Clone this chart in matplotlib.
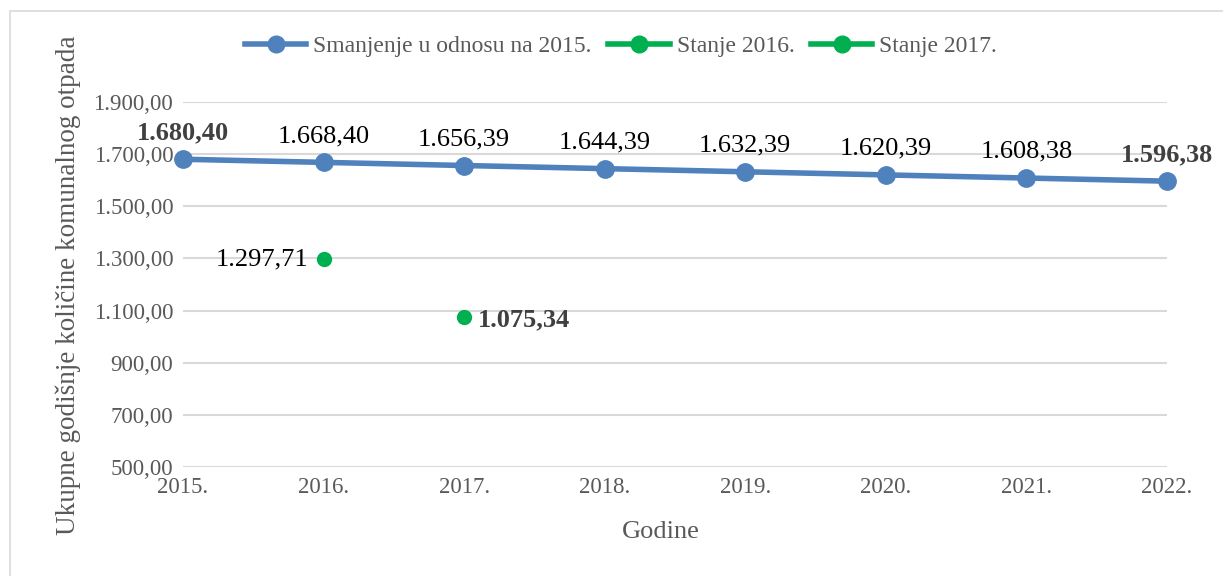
import matplotlib
matplotlib.use("Agg")
import matplotlib.pyplot as plt
from matplotlib.patches import Rectangle
from matplotlib.ticker import FuncFormatter

plt.rcParams['font.family'] = ['Liberation Serif', 'DejaVu Serif']

years = [2015, 2016, 2017, 2018, 2019, 2020, 2021, 2022]
year_labels = ["2015.", "2016.", "2017.", "2018.", "2019.", "2020.", "2021.", "2022."]
reduction = [1680.40, 1668.40, 1656.39, 1644.39, 1632.39, 1620.39, 1608.38, 1596.38]
reduction_labels = ["1.680,40", "1.668,40", "1.656,39", "1.644,39", "1.632,39", "1.620,39", "1.608,38", "1.596,38"]
state2016_x, state2016_y, state2016_label = 2016, 1297.71, "1.297,71"
state2017_x, state2017_y, state2017_label = 2017, 1075.34, "1.075,34"
yticks = [500, 700, 900, 1100, 1300, 1500, 1700, 1900]

blue = "#4F81BD"
green = "#00B050"
gray = "#595959"

fig = plt.figure(figsize=(12.23, 5.76), dpi=100)
fig.patches.append(Rectangle((10/1223, -0.01), 1.02, 1 - 11/576 + 0.01, transform=fig.transFigure,
                             fill=False, edgecolor="#D9D9D9", linewidth=1.2))
ax = fig.add_axes([183/1223, 1 - 467/576, (1167-183)/1223, (467-102)/576])

ax.plot(years, reduction, color=blue, linewidth=4, marker="o", markersize=12.5,
        label="Smanjenje u odnosu na 2015.", clip_on=False, zorder=3)
ax.plot([state2016_x], [state2016_y], color=green, linewidth=4, marker="o", markersize=10,
        linestyle="none", label="Stanje 2016.", clip_on=False, zorder=3)
ax.plot([state2017_x], [state2017_y], color=green, linewidth=4, marker="o", markersize=10,
        linestyle="none", label="Stanje 2017.", clip_on=False, zorder=3)

n = len(years)
for i, (x, y, lab) in enumerate(zip(years, reduction, reduction_labels)):
    bold = (i == 0 or i == n - 1)
    ax.annotate(lab, (x, y), xytext=(0, 11), textcoords="offset points",
                ha="center", va="bottom", fontsize=19,
                fontweight="bold" if bold else "normal",
                color="#404040" if bold else "black", zorder=4)

ax.annotate(state2016_label, (state2016_x, state2016_y), xytext=(-11, 0), textcoords="offset points",
            ha="right", va="center", fontsize=19, color="black")
ax.annotate(state2017_label, (state2017_x, state2017_y), xytext=(10, -2), textcoords="offset points",
            ha="left", va="center", fontsize=19, fontweight="bold", color="#404040")

ax.set_xlim(2015, 2022)
ax.set_ylim(500, 1900)
ax.set_yticks(yticks)
ax.yaxis.set_major_formatter(FuncFormatter(lambda v, p: f"{int(v):,}".replace(",", ".") + ",00"))
ax.set_xticks(years)
ax.set_xticklabels(year_labels)
ax.tick_params(axis="both", length=0, labelsize=16.5, labelcolor=gray)
ax.tick_params(axis="x", pad=7)
ax.tick_params(axis="y", pad=7)
ax.grid(axis="y", color="#D9D9D9", linewidth=1.5)
ax.set_axisbelow(True)
for s in ax.spines.values():
    s.set_visible(False)

fig.text(661/1223, 1 - 532/576, "Godine", ha="center", va="center", fontsize=19, color=gray)
fig.text(68/1223, 1 - 285/576, "Ukupne godišnje količine komunalnog otpada", rotation=90,
         ha="center", va="center", fontsize=19.5, color=gray)

leg = fig.legend(loc="center", bbox_to_anchor=(621/1223, 1 - 46/576), ncol=3, frameon=False,
                 fontsize=17, handlelength=2.6, columnspacing=0.7, handletextpad=0.3,
                 labelcolor=gray)
for h in leg.legend_handles:
    h.set_linestyle("-")
    h.set_linewidth(4)
    h.set_markersize(12)

fig.savefig("out.png", dpi=100, facecolor="white")
